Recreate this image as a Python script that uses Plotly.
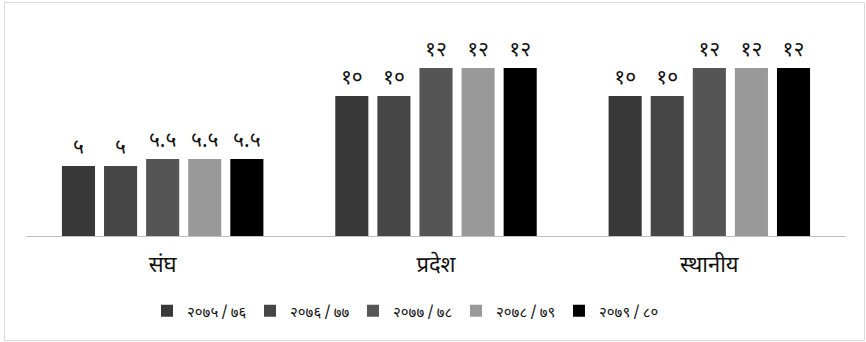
import plotly.graph_objects as go

categories = ["संघ", "प्रदेश", "स्थानीय"]
series_names = ["२०७५\u2009/\u2009७६", "२०७६\u2009/\u2009७७", "२०७७\u2009/\u2009७८",
                "२०७८\u2009/\u2009७९", "२०७९\u2009/\u2009८०"]
values_7576 = [5, 10, 10]
values_7677 = [5, 10, 10]
values_7778 = [5.5, 12, 12]
values_7879 = [5.5, 12, 12]
values_7980 = [5.5, 12, 12]
series_values = [values_7576, values_7677, values_7778, values_7879, values_7980]
colors = ["#383838", "#464646", "#555555", "#999999", "#000000"]

DEV = str.maketrans("0123456789", "०१२३४५६७८९")


def dev(v):
    s = ("%g" % v)
    return s.translate(DEV)


W, H = 866, 342
L, R, T, B = 26, 20, 40, 106
PW, PH = W - L - R, H - T - B
FONT = "Noto Sans Devanagari, Noto Sans, DejaVu Sans, sans-serif"

fig = go.Figure()
for name, vals, col in zip(series_names, series_values, colors):
    fig.add_trace(go.Bar(
        x=categories, y=vals, name=name,
        marker=dict(color=col, line=dict(width=0)),
        text=[dev(v) for v in vals], textposition="outside",
        textfont=dict(size=21, color="#111111", family=FONT),
        cliponaxis=False,
    ))

fig.update_layout(
    width=W, height=H,
    margin=dict(l=L, r=R, t=T, b=B),
    paper_bgcolor="white", plot_bgcolor="white",
    barmode="group", bargap=0.23, bargroupgap=0.214,
    font=dict(family=FONT, color="#111111"),
    xaxis=dict(showline=True, linecolor="#c0c0c0", linewidth=1, ticks="",
               tickfont=dict(size=22, color="#111111"), showgrid=False,
               ticklabelstandoff=9),
    yaxis=dict(range=[0, 14], visible=False, showgrid=False),
    showlegend=True,
    legend=dict(orientation="h", x=(147 - L) / PW, xanchor="left",
                y=-(311 - 236) / PH, yanchor="middle",
                font=dict(size=15, color="#111111"),
                itemwidth=30, entrywidth=58, traceorder="normal"),
)
fig.add_shape(type="rect", xref="paper", yref="paper",
              x0=-(L - 4.5) / PW, x1=1 + (R - 1.5) / PW,
              y0=-(B - 1.5) / PH, y1=1 + (T - 2.5) / PH,
              line=dict(color="#d9d9d9", width=1), fillcolor="rgba(0,0,0,0)", layer="below")

fig.write_html("out.html")
